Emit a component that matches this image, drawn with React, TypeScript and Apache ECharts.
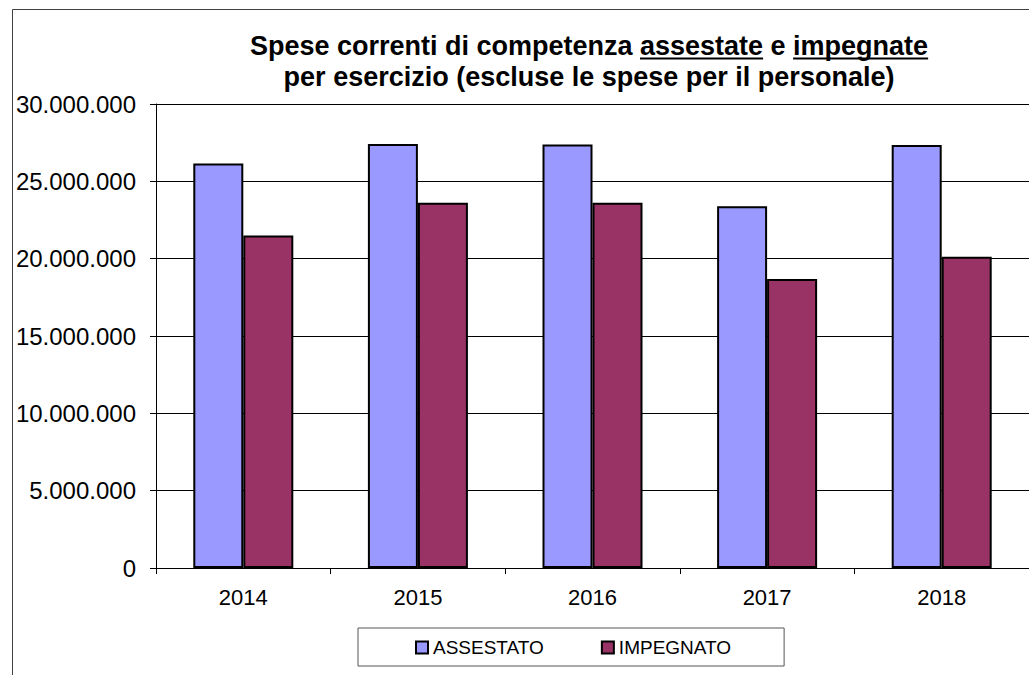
import React, { useEffect, useRef } from "react";
import * as echarts from "echarts";

const years = ["2014", "2015", "2016", "2017", "2018"];
const assestato = [26150000, 27410000, 27380000, 23390000, 27350000];
const impegnato = [21490000, 23620000, 23620000, 18690000, 20130000];
const seriesNames = ["ASSESTATO", "IMPEGNATO"];
const titleLine1Parts = ["Spese correnti di competenza ", "assestate", " e ", "impegnate"];
const titleLine2 = "per esercizio (escluse le spese per il personale)";

const FONT = "'Liberation Sans', Arial, sans-serif";

function fmt(v: number): string {
  return String(Math.round(v)).replace(/\B(?=(\d{3})+(?!\d))/g, ".");
}

export default function App() {
  const ref = useRef<HTMLDivElement>(null);
  useEffect(() => {
    if (!ref.current) return;
    const chart = echarts.init(ref.current, undefined, { renderer: "svg" });

    const titleSize = 27;
    const cx = 589;
    const y1 = 46;
    const y2 = 77;
    const ctx = document.createElement("canvas").getContext("2d")!;
    ctx.font = `bold ${titleSize}px 'Liberation Sans'`;
    const full1 = titleLine1Parts.join("");
    const W = ctx.measureText(full1).width;
    const x0 = cx - W / 2;
    const w = (s: string) => ctx.measureText(s).width;
    const a0 = x0 + w(titleLine1Parts[0]);
    const a1 = a0 + w(titleLine1Parts[1]);
    const b0 = x0 + w(titleLine1Parts[0] + titleLine1Parts[1] + titleLine1Parts[2]);
    const b1 = b0 + w(titleLine1Parts[3]);
    const uy = 58.5;

    chart.setOption({
      animation: false,
      backgroundColor: "#ffffff",
      grid: { left: 156, top: 104, width: 877, bottom: 107, containLabel: false },
      xAxis: {
        type: "category",
        data: years,
        axisLine: { show: true, lineStyle: { color: "#000", width: 1 } },
        axisTick: { show: true, alignWithLabel: false, length: 6, lineStyle: { color: "#000" } },
        axisLabel: { color: "#000", fontSize: 22, fontFamily: FONT, margin: 18 },
        splitLine: { show: false },
      },
      yAxis: {
        type: "value",
        min: 0,
        max: 30000000,
        interval: 5000000,
        axisLine: { show: true, lineStyle: { color: "#000", width: 1 } },
        axisTick: { show: true, length: 6, lineStyle: { color: "#000" } },
        axisLabel: { color: "#000", fontSize: 24, fontFamily: FONT, margin: 20, formatter: (v: number) => fmt(v) },
        splitLine: { show: true, lineStyle: { color: "#000", width: 1 } },
      },
      legend: {
        data: seriesNames,
        left: 358,
        top: 628,
        orient: "horizontal",
        itemWidth: 12,
        itemHeight: 12,
        itemGap: 57,
        padding: [10, 53, 9, 57],
        borderColor: "#555",
        borderWidth: 1,
        icon: "rect",
        textStyle: { color: "#000", fontSize: 19, fontFamily: FONT },
      },
      series: [
        {
          name: seriesNames[0],
          type: "bar",
          data: assestato,
          barWidth: 50,
          barGap: "0%",
          itemStyle: { color: "#9999FF", borderColor: "#000", borderWidth: 2 },
        },
        {
          name: seriesNames[1],
          type: "bar",
          data: impegnato,
          barWidth: 50,
          barGap: "0%",
          itemStyle: { color: "#993366", borderColor: "#000", borderWidth: 2 },
        },
      ],
      graphic: [
        {
          type: "rect",
          shape: { x: 12.5, y: 9.5, width: 1100, height: 700 },
          style: { fill: "none", stroke: "#404040", lineWidth: 1 },
          silent: true,
          z: 100,
        },
        {
          type: "text",
          x: cx,
          y: y1,
          style: {
            text: full1,
            font: `bold ${titleSize}px ${FONT}`,
            fill: "#000",
            textAlign: "center",
            textVerticalAlign: "middle",
          },
        },
        {
          type: "text",
          x: cx,
          y: y2,
          style: {
            text: titleLine2,
            font: `bold ${titleSize}px ${FONT}`,
            fill: "#000",
            textAlign: "center",
            textVerticalAlign: "middle",
          },
        },
        {
          type: "line",
          shape: { x1: a0, y1: uy, x2: a1, y2: uy },
          style: { stroke: "#000", lineWidth: 2 },
        },
        {
          type: "line",
          shape: { x1: b0, y1: uy, x2: b1, y2: uy },
          style: { stroke: "#000", lineWidth: 2 },
        },
      ],
    });
    return () => chart.dispose();
  }, []);
  return (
    <div
      ref={ref}
      style={{ position: "absolute", left: 0, top: 0, width: 1029, height: 675, background: "#fff" }}
    />
  );
}
